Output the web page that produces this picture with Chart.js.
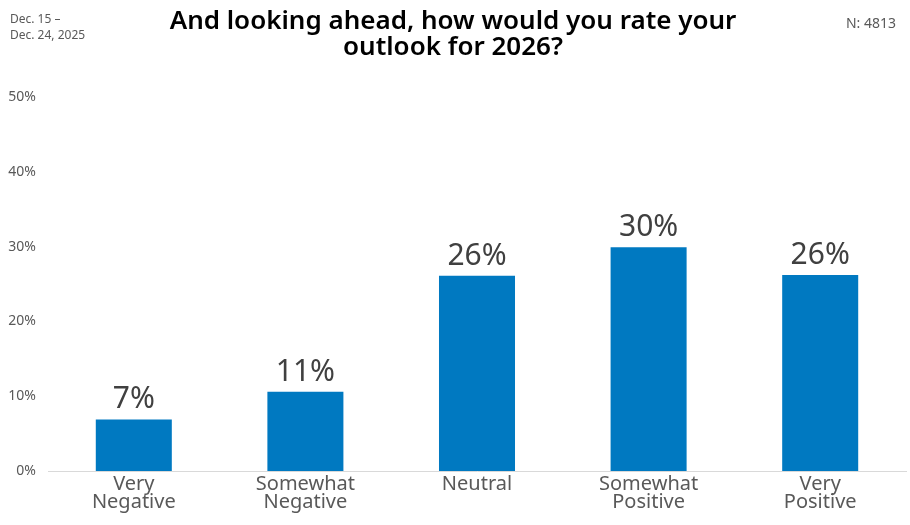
<!DOCTYPE html>
<html>
<head>
    <title>Outlook for 2026</title>
    <script src="https://cdn.jsdelivr.net/npm/chart.js"></script>
    <style>
        html, body { margin: 0; padding: 0; background: #fff; }
        #wrap { width: 910px; height: 525px; position: relative; }
    </style>
</head>
<body>
    <div id="wrap"><canvas id="outlookChart"></canvas></div>

    <script>
        const categories = [['Very', 'Negative'], ['Somewhat', 'Negative'], ['Neutral'], ['Somewhat', 'Positive'], ['Very', 'Positive']];
        const shares = [6.9, 10.6, 26.1, 29.9, 26.2];
        const yTicks = [0, 10, 20, 30, 40, 50];

        const titleLines = ['And looking ahead, how would you rate your', 'outlook for 2026?'];
        const dateLines = ['Dec. 15 \u2013', 'Dec. 24, 2025'];
        const sampleText = 'N: 4813';

        const fontFamily = '"Noto Sans", "Open Sans", sans-serif';

        // header texts and value labels
        const decorations = {
            id: 'decorations',
            afterDraw(chart) {
                const ctx = chart.ctx;
                ctx.save();
                ctx.textBaseline = 'middle';

                ctx.fillStyle = '#000';
                ctx.textAlign = 'center';
                ctx.font = '600 26px ' + fontFamily;
                ctx.fillText(titleLines[0], 453, 22);
                ctx.fillText(titleLines[1], 453, 48);

                ctx.fillStyle = '#595959';
                ctx.textAlign = 'left';
                ctx.font = '12px ' + fontFamily;
                ctx.fillText(dateLines[0], 10, 20);
                ctx.fillText(dateLines[1], 10, 36);

                ctx.textAlign = 'right';
                ctx.font = '14px ' + fontFamily;
                ctx.fillText(sampleText, 896, 24);

                const meta = chart.getDatasetMeta(0);
                ctx.fillStyle = '#404040';
                ctx.textAlign = 'center';
                ctx.textBaseline = 'alphabetic';
                ctx.font = '30px ' + fontFamily;
                meta.data.forEach((bar, i) => {
                    ctx.fillText(Math.round(shares[i]) + '%', bar.x, bar.y - 11);
                });
                ctx.restore();
            }
        };

        new Chart(document.getElementById('outlookChart'), {
            type: 'bar',
            data: {
                labels: categories,
                datasets: [{
                    data: shares,
                    backgroundColor: '#0079C1',
                    borderWidth: 0,
                    barPercentage: 0.443,
                    categoryPercentage: 1
                }]
            },
            options: {
                responsive: true,
                maintainAspectRatio: false,
                animation: false,
                layout: { padding: { top: 97, right: 4, bottom: 0, left: 0 } },
                plugins: {
                    legend: { display: false },
                    tooltip: { enabled: false }
                },
                scales: {
                    x: {
                        grid: { display: false },
                        border: { display: true, color: '#d9d9d9', width: 1 },
                        ticks: {
                            color: '#595959',
                            font: { family: fontFamily, size: 20, lineHeight: 0.92 },
                            padding: -4,
                            maxRotation: 0,
                            autoSkip: false
                        },
                        afterFit(scale) { scale.height = 54; }
                    },
                    y: {
                        min: 0,
                        max: 50,
                        afterBuildTicks(scale) { scale.ticks = yTicks.map(v => ({ value: v })); },
                        grid: { display: false },
                        border: { display: false },
                        ticks: {
                            color: '#595959',
                            font: { family: fontFamily, size: 14 },
                            padding: 4,
                            callback: v => v + '%'
                        },
                        afterFit(scale) { scale.width = 48; }
                    }
                }
            },
            plugins: [decorations]
        });
    </script>
</body>
</html>
